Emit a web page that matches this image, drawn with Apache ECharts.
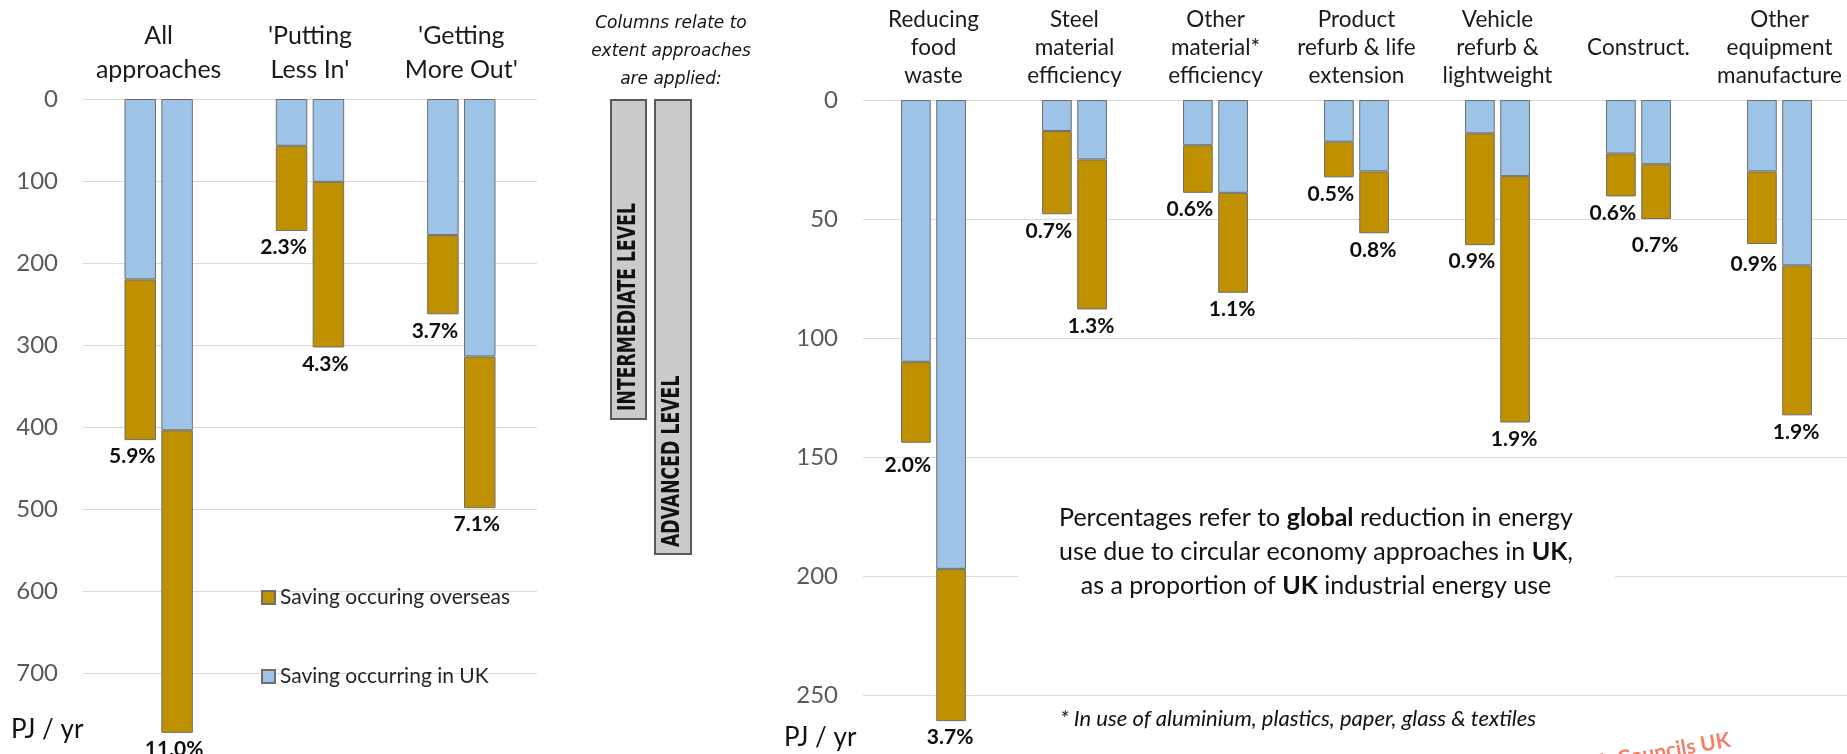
<!DOCTYPE html>
<html>
<head>
<meta charset="utf-8">
<script src="https://cdn.jsdelivr.net/npm/echarts@6/dist/echarts.min.js"></script>
<style>
  html, body { margin: 0; padding: 0; overflow: hidden; background: #ffffff; }
  #chart { width: 1847px; height: 754px; }
</style>
</head>
<body>
<div id="chart"></div>
<script>
// ---- Left panel: approach groups (PJ / yr) ----
const groupCats = ['All\napproaches', "'Putting\nLess In'", "'Getting\nMore Out'"];
const groupUkInt = [220, 57, 166];
const groupOsInt = [196, 104, 96.5];
const groupUkAdv = [404, 101, 314];
const groupOsAdv = [369, 202, 185];
const groupPctInt = [5.9, 2.3, 3.7];
const groupPctAdv = [11.0, 4.3, 7.1];
const groupTicks = [0, 100, 200, 300, 400, 500, 600, 700];

// ---- Right panel: individual measures (PJ / yr) ----
const measureCats = [
  'Reducing\nfood\nwaste',
  'Steel\nmaterial\nefficiency',
  'Other\nmaterial*\nefficiency',
  'Product\nrefurb & life\nextension',
  'Vehicle\nrefurb &\nlightweight',
  'Construct.',
  'Other\nequipment\nmanufacture'
];
const measureUkInt = [110, 13, 19, 17.5, 14, 22.5, 30];
const measureOsInt = [34, 35, 20, 15, 47, 18, 30.5];
const measureUkAdv = [197, 25, 39, 30, 32, 27, 69.5];
const measureOsAdv = [64, 63, 42, 26, 103.5, 23, 63];
const measurePctInt = [2.0, 0.7, 0.6, 0.5, 0.9, 0.6, 0.9];
const measurePctAdv = [3.7, 1.3, 1.1, 0.8, 1.9, 0.7, 1.9];
const measureTicks = [0, 50, 100, 150, 200, 250];

// extra downward shift (px) of a few percentage labels, for legibility
const measureLabelDropInt = [6, 0, 0, 0, 0, 0, 4];
const measureLabelDropAdv = [0, 0, 0, 0, 0, 10, 0];

const NAME_OS = 'Saving occuring overseas';
const NAME_UK = 'Saving occurring in UK';
const GOLD = '#bf9000';
const BLUE = '#9dc3e6';
const FONT = 'Lato, "Noto Sans", sans-serif';
const NARROW = '"Liberation Sans Narrow", "DejaVu Sans Condensed", sans-serif';

function yAxisFor(ticks, gridIndex) {
  const step = ticks[1] - ticks[0];
  return {
    type: 'value', gridIndex: gridIndex, inverse: true,
    min: ticks[0], max: ticks[ticks.length - 1] + step, interval: step,
    axisLine: { show: false }, axisTick: { show: false },
    axisLabel: { color: '#595959', fontFamily: FONT, fontSize: 24, margin: 25, showMaxLabel: false },
    splitLine: { lineStyle: { color: '#d9d9d9', width: 1 } }
  };
}

function xAxisFor(cats, gridIndex, fontSize, lineHeight, margin) {
  return {
    type: 'category', gridIndex: gridIndex, data: cats, position: 'top',
    axisLine: { show: false, onZero: false }, axisTick: { show: false },
    axisLabel: {
      interval: 0, color: '#1a1a1a', fontFamily: FONT, fontSize: fontSize,
      lineHeight: lineHeight, margin: margin, verticalAlign: 'middle'
    }
  };
}

function barSeries(name, values, stack, gi, color, width, gap, pcts, offX, drops) {
  const s = {
    type: 'bar', name: name, stack: stack + gi,
    xAxisIndex: gi, yAxisIndex: gi, barWidth: width, barGap: gap,
    itemStyle: { color: color, borderColor: '#6e6e6e', borderWidth: 1 },
    emphasis: { disabled: true },
    data: values.map((v, i) => (drops && drops[i])
      ? { value: v, label: { offset: [offX, drops[i]] } }
      : v)
  };
  if (pcts) {
    s.label = {
      show: true, position: 'bottom', distance: 6, offset: [offX, 0],
      formatter: p => pcts[p.dataIndex].toFixed(1) + '%',
      fontFamily: FONT, fontWeight: 'bold', fontSize: 21, color: '#0d0d0d'
    };
  }
  return s;
}

function caption(text, x, y, font, align, lineHeight, extra) {
  const style = { text: text, font: font, fill: '#111', align: align, verticalAlign: 'middle',
    textAlign: align, textVerticalAlign: 'middle' };
  if (lineHeight) style.lineHeight = lineHeight;
  return Object.assign({ type: 'text', x: x, y: y, z: 51, style: style }, extra || {});
}

const chart = echarts.init(document.getElementById('chart'), null, { renderer: 'canvas' });

const option = {
  animation: false,
  backgroundColor: '#ffffff',
  grid: [
    { left: 83, top: 99, width: 454, height: 656, outerBoundsMode: 'none' },
    { left: 863, top: 100, width: 987, height: 714, outerBoundsMode: 'none' }
  ],
  xAxis: [
    xAxisFor(groupCats, 0, 25, 34, 46),
    xAxisFor(measureCats, 1, 22.5, 28, 52)
  ],
  yAxis: [yAxisFor(groupTicks, 0), yAxisFor(measureTicks, 1)],
  legend: {
    data: [NAME_OS, NAME_UK], orient: 'vertical', left: 256, top: 582,
    itemWidth: 13, itemHeight: 13, itemGap: 58, icon: 'rect',
    textStyle: { fontFamily: FONT, fontSize: 21, color: '#262626' },
    selectedMode: false
  },
  series: [
    barSeries(NAME_UK, groupUkInt, 'int', 0, BLUE, 31.5, '17%'),
    barSeries(NAME_OS, groupOsInt, 'int', 0, GOLD, 31.5, '17%', groupPctInt, -8),
    barSeries(NAME_UK, groupUkAdv, 'adv', 0, BLUE, 31.5, '17%'),
    barSeries(NAME_OS, groupOsAdv, 'adv', 0, GOLD, 31.5, '17%', groupPctAdv, -3),
    barSeries(NAME_UK, measureUkInt, 'int', 1, BLUE, 29.7, '18.5%'),
    barSeries(NAME_OS, measureOsInt, 'int', 1, GOLD, 29.7, '18.5%', measurePctInt, -8, measureLabelDropInt),
    barSeries(NAME_UK, measureUkAdv, 'adv', 1, BLUE, 29.7, '18.5%'),
    barSeries(NAME_OS, measureOsAdv, 'adv', 1, GOLD, 29.7, '18.5%', measurePctAdv, -1, measureLabelDropAdv)
  ],
  graphic: [
    // heading for the level boxes
    caption('Columns relate to\nextent approaches\nare applied:', 671, 52,
      'italic 17px "DejaVu Sans", sans-serif', 'center', 28),
    { type: 'rect', z: 50, shape: { x: 611, y: 100, width: 35, height: 319 },
      style: { fill: '#cbcbcb', stroke: '#5a5a5a', lineWidth: 2 } },
    { type: 'rect', z: 50, shape: { x: 655, y: 100, width: 36, height: 454 },
      style: { fill: '#cbcbcb', stroke: '#5a5a5a', lineWidth: 2 } },
    caption('INTERMEDIATE LEVEL', 629, 411, 'bold 24px ' + NARROW, 'left', 0,
      { rotation: Math.PI / 2, scaleX: 0.8 }),
    caption('ADVANCED LEVEL', 673, 547, 'bold 24px ' + NARROW, 'left', 0,
      { rotation: Math.PI / 2, scaleX: 0.8 }),
    // note panel on the right, masking the grid line behind it
    { type: 'rect', z: 50, shape: { x: 1018, y: 488, width: 597, height: 130 },
      style: { fill: '#ffffff' } },
    { type: 'text', x: 1316, y: 552, z: 51,
      style: {
        text: 'Percentages refer to {b|global} reduction in energy\nuse due to circular economy approaches in {b|UK},\nas a proportion of {b|UK} industrial energy use',
        font: '25px Lato, sans-serif', lineHeight: 34, fill: '#111',
        align: 'center', verticalAlign: 'middle', textAlign: 'center', textVerticalAlign: 'middle',
        rich: { b: { font: 'bold 25px Lato, sans-serif', lineHeight: 34, fill: '#111' } }
      } },
    caption('* In use of aluminium, plastics, paper, glass & textiles', 1298, 719,
      'italic 22px Lato, sans-serif', 'center'),
    // unit captions
    caption('PJ / yr', 11, 730, '26px Lato, sans-serif', 'left'),
    caption('PJ / yr', 784, 738, '26px Lato, sans-serif', 'left'),
    // credit mark in the lower right corner
    { type: 'text', x: 1730, y: 740, rotation: 0.17, z: 51,
      style: { text: 'Research Councils UK', font: 'bold 21px Lato, sans-serif', fill: '#ee6a4c', opacity: 0.85,
        align: 'right', verticalAlign: 'middle', textAlign: 'right', textVerticalAlign: 'middle' } }
  ]
};

chart.setOption(option);
</script>
</body>
</html>
